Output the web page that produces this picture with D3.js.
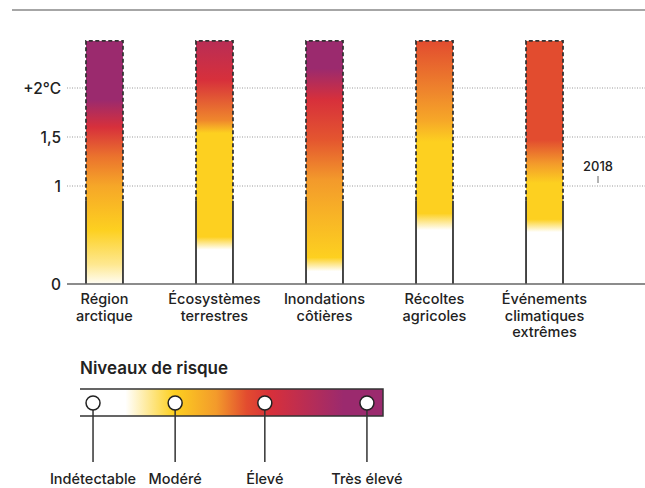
<!DOCTYPE html>
<html>
<head>
    <meta charset="utf-8">
    <title>Niveaux de risque</title>
    <script src="https://d3js.org/d3.v7.min.js"></script>
    <style>
        body { margin: 0; background: #fff; }
        text { font-family: Inter, Roboto, sans-serif; fill: #222; font-weight: 500; }
        .grid line { stroke: #999; stroke-dasharray: 1,1.5; }
    </style>
</head>
<body>
    <div id="chart"></div>
    <script>
        // categories (x labels, one line each)
        const categories = ["Région arctique", "Écosystèmes terrestres", "Inondations côtières", "Récoltes agricoles", "Événements climatiques extrêmes"];
        const categoryLines = [["Région", "arctique"], ["Écosystèmes", "terrestres"], ["Inondations", "côtières"], ["Récoltes", "agricoles"], ["Événements", "climatiques", "extrêmes"]];

        // risk level (0 = indétectable, 1 = modéré, 2 = élevé, 3 = très élevé) at a given warming (°C)
        const arcticStops = [[0, 0.05], [0.2, 0.5], [0.55, 1], [1.0, 1.3], [1.3, 1.6], [1.6, 2], [1.88, 3], [2.48, 3]];
        const ecosystemStops = [[0, 0], [0.35, 0], [0.48, 1], [1.54, 1], [1.67, 1.5], [2.08, 2], [2.48, 2.5]];
        const coastalStops = [[0, 0], [0.13, 0], [0.27, 1], [0.68, 1.2], [1.06, 1.4], [1.47, 1.75], [1.88, 2], [2.2, 3], [2.48, 3]];
        const cropStops = [[0, 0], [0.55, 0], [0.72, 1], [1.45, 1], [1.67, 1.3], [1.95, 1.5], [2.48, 1.8]];
        const extremeStops = [[0, 0], [0.53, 0], [0.66, 1], [1.03, 1], [1.23, 1.4], [1.47, 1.8], [2.48, 1.8]];
        const barStops = [arcticStops, ecosystemStops, coastalStops, cropStops, extremeStops];

        const barTop = 2.48;      // top of each bar (°C)
        const solidTop = 0.85;    // side lines solid below this, dashed above
        const yTicks = [0, 1, 1.5, 2];
        const yTickLabels = ["0", "1", "1,5", "+2°C"];
        const marker2018 = 1.0;

        // legend
        const riskLevels = [0, 1, 2, 3];
        const riskLabels = ["Indétectable", "Modéré", "Élevé", "Très élevé"];
        const riskPositions = [0.043, 0.314, 0.61, 0.947];
        const legendStops = [[0, 0], [0.15, 0], [0.31, 1], [0.45, 1.4], [0.55, 1.8], [0.63, 2], [0.87, 3], [1, 3]];

        const riskColor = d3.scaleLinear()
            .domain([0, 1, 1.4, 1.8, 2, 3])
            .range(["#ffffff", "#fdd020", "#f39a2b", "#e24c2f", "#d7303b", "#9b2a6e"]);

        const width = 645, height = 488;
        const svg = d3.select("#chart").append("svg")
            .attr("width", width)
            .attr("height", height);
        const defs = svg.append("defs");

        // top rule (title cropped above)
        svg.append("line")
            .attr("x1", 12).attr("x2", width)
            .attr("y1", 10).attr("y2", 10)
            .attr("stroke", "#888").attr("stroke-width", 1.5);

        const y = d3.scaleLinear().domain([0, 2]).range([284, 88]);
        const x = d3.scaleBand().domain(categories).range([86, 563]).paddingInner(0.664).paddingOuter(0);

        // dotted gridlines
        svg.append("g").attr("class", "grid")
            .selectAll("line")
            .data(yTicks.filter(d => d > 0))
            .enter().append("line")
            .attr("x1", 67).attr("x2", width)
            .attr("y1", d => y(d)).attr("y2", d => y(d));

        // y labels
        svg.append("g")
            .selectAll("text")
            .data(yTicks)
            .enter().append("text")
            .attr("x", 61)
            .attr("y", d => y(d))
            .attr("dy", "0.36em")
            .attr("text-anchor", "end")
            .style("font-size", "15.5px")
            .text((d, i) => yTickLabels[i]);

        // bars
        categories.forEach(function(c, i) {
            const id = "grad" + i;
            const grad = defs.append("linearGradient")
                .attr("id", id)
                .attr("gradientUnits", "userSpaceOnUse")
                .attr("x1", 0).attr("x2", 0)
                .attr("y1", y(0)).attr("y2", y(barTop));
            grad.selectAll("stop")
                .data(barStops[i])
                .enter().append("stop")
                .attr("offset", d => d[0] / barTop)
                .attr("stop-color", d => riskColor(d[1]));

            const g = svg.append("g");
            const x0 = x(c), x1 = x(c) + x.bandwidth();
            g.append("rect")
                .attr("x", x0).attr("width", x.bandwidth())
                .attr("y", y(barTop)).attr("height", y(0) - y(barTop))
                .attr("fill", `url(#${id})`);

            // solid sides
            [x0, x1].forEach(function(xx) {
                g.append("line")
                    .attr("x1", xx).attr("x2", xx)
                    .attr("y1", y(0)).attr("y2", y(solidTop))
                    .attr("stroke", "#333").attr("stroke-width", 1.8);
            });
            // dashed outline above
            g.append("path")
                .attr("d", `M${x0},${y(solidTop)}V${y(barTop)}H${x1}V${y(solidTop)}`)
                .attr("fill", "none")
                .attr("stroke", "#333").attr("stroke-width", 1.8)
                .attr("stroke-dasharray", "4,2.5");
        });

        // baseline
        svg.append("line")
            .attr("x1", 67).attr("x2", width)
            .attr("y1", y(0)).attr("y2", y(0))
            .attr("stroke", "#666").attr("stroke-width", 1.5);

        // x labels
        categories.forEach(function(c, i) {
            const t = svg.append("text")
                .attr("text-anchor", "middle")
                .attr("x", x(c) + x.bandwidth() / 2)
                .attr("y", 304)
                .style("font-size", "14.5px");
            categoryLines[i].forEach(function(line, j) {
                t.append("tspan")
                    .attr("x", x(c) + x.bandwidth() / 2)
                    .attr("y", 304 + j * 16.5)
                    .text(line);
            });
        });

        // 2018 marker
        svg.append("text")
            .attr("x", 598).attr("y", 171)
            .attr("text-anchor", "middle")
            .style("font-size", "13px")
            .text("2018");
        svg.append("line")
            .attr("x1", 598).attr("x2", 598)
            .attr("y1", y(marker2018) - 10).attr("y2", y(marker2018) - 3)
            .attr("stroke", "#666").attr("stroke-width", 1);

        // legend
        const lx = d3.scaleLinear().domain([0, 1]).range([80, 383]);
        const ly0 = 389, ly1 = 416, lyc = 403;

        svg.append("text")
            .attr("x", 80).attr("y", 374)
            .style("font-size", "17px")
            .style("font-weight", "600")
            .text("Niveaux de risque");

        const lg = defs.append("linearGradient")
            .attr("id", "legendGrad")
            .attr("x1", 0).attr("x2", 1).attr("y1", 0).attr("y2", 0);
        lg.selectAll("stop")
            .data(legendStops)
            .enter().append("stop")
            .attr("offset", d => d[0])
            .attr("stop-color", d => riskColor(d[1]));

        svg.append("rect")
            .attr("x", lx(0)).attr("y", ly0)
            .attr("width", lx(1) - lx(0)).attr("height", ly1 - ly0)
            .attr("fill", "url(#legendGrad)");
        svg.append("path")
            .attr("d", `M${lx(0)},${ly0}H${lx(1)}V${ly1}H${lx(0)}`)
            .attr("fill", "none")
            .attr("stroke", "#333").attr("stroke-width", 1.5);

        const marks = svg.append("g")
            .selectAll("g")
            .data(riskLevels)
            .enter().append("g")
            .attr("transform", (d, i) => `translate(${lx(riskPositions[i])},0)`);
        marks.append("line")
            .attr("y1", lyc + 7).attr("y2", 462)
            .attr("stroke", "#333").attr("stroke-width", 1.5);
        marks.append("circle")
            .attr("cy", lyc).attr("r", 7)
            .attr("fill", "#fff")
            .attr("stroke", "#222").attr("stroke-width", 1.5);
        marks.append("text")
            .attr("y", 484)
            .attr("text-anchor", "middle")
            .style("font-size", "14.5px")
            .text((d, i) => riskLabels[i]);
    </script>
</body>
</html>
